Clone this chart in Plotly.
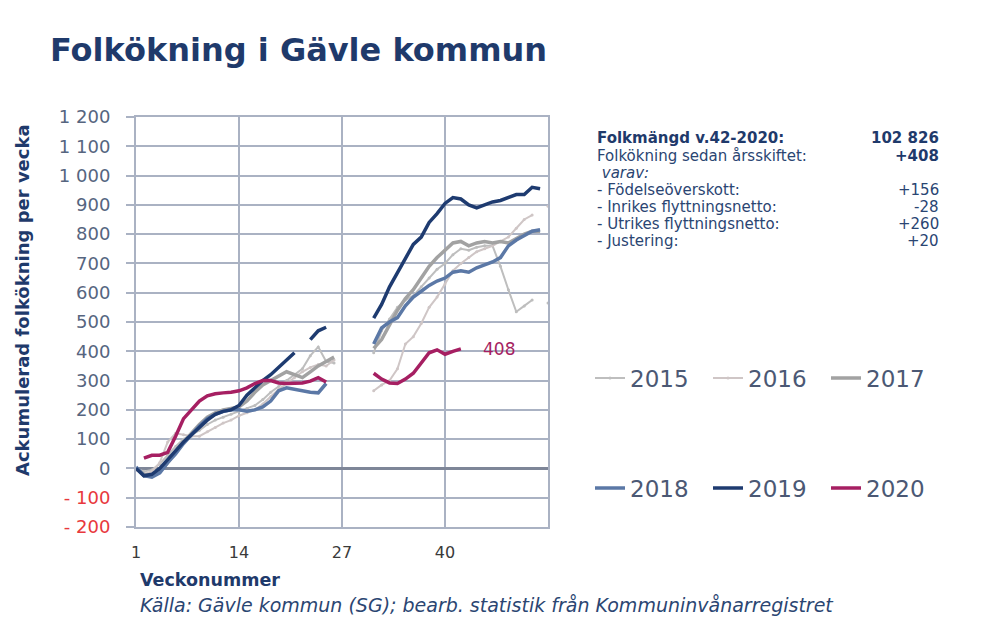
import plotly.graph_objects as go

weeks = list(range(1, 54))
N = None

# Accumulated population increase per week
y2015 = [0, -10, -5, 15, 45, 75, 100, 115, 130, 150, 165, 175, 185, 195, 205, 215, 235, 260, 280, 300,
         320, 340, 385, 415, 365, 360, N, N, N, N,
         395, 470, 510, 550, 575, 590, 620, 650, 680, 700, 730, 750, 745, 755, 760, 760, 690, 610, 535, 555,
         575, N, 565]
y2016 = [-5, -20, -10, 20, 90, 120, 115, 110, 110, 125, 140, 155, 165, 180, 190, 200, 220, 245, 270, 290,
         310, 330, 345, 355, 350, 370, N, N, N, N,
         265, 285, 300, 340, 425, 450, 495, 550, 585, 630, 675, 700, 720, 740, 750, 760, 775, 790, 820, 850,
         865, N, 895]
y2017 = [0, -20, -25, -10, 20, 55, 90, 120, 150, 175, 190, 200, 205, 210, 230, 260, 285, 300, 315, 330,
         320, 310, 330, 350, 365, 380, N, N, N, N,
         410, 440, 490, 540, 580, 610, 650, 690, 720, 745, 770, 775, 760, 770, 775, 770, 775, 770, 785, 800,
         810, 810, N]
y2018 = [5, -25, -30, -15, 20, 50, 85, 115, 145, 170, 185, 195, 200, 200, 195, 200, 210, 230, 265, 275,
         270, 265, 260, 258, 290, N, N, N, N, N,
         425, 480, 500, 515, 555, 585, 605, 625, 640, 650, 670, 675, 670, 685, 695, 705, 720, 760, 780, 795,
         810, 815, N]
y2019 = [0, -25, -20, 0, 30, 60, 90, 115, 140, 165, 185, 195, 200, 215, 250, 275, 300, 320, 345, 370,
         395, N, 440, 470, 482, N, N, N, N, N,
         513, 560, 620, 670, 720, 765, 790, 840, 870, 905, 925, 920, 900, 890, 900, 910, 915, 925, 935, 935,
         960, 955, N]
y2020 = [N, 35, 45, 45, 55, 110, 170, 200, 230, 248, 255, 258, 260, 265, 275, 290, 300, 300, 292, 290,
         292, 292, 298, 310, 295, N, N, N, N, N,
         325, 305, 292, 290, 305, 325, 360, 395, 405, 390, 400, 408, N, N, N, N, N, N, N, N,
         N, N, N]

x_tickvals = [1, 14, 27, 40, 53]
x_ticktext = ["1", "14", "27", "40", ""]
y_tickvals = list(range(-200, 1201, 100))
y_ticktext = ["<span style='color:#E8383D'>- 200</span>", "<span style='color:#E8383D'>- 100</span>",
              "0", "100", "200", "300", "400", "500", "600", "700", "800", "900",
              "1 000", "1 100", "1 200"]

info_labels = ["Folkmängd v.42-2020:", "Folkökning sedan årsskiftet:", " <i>varav:</i>",
               "- Födelseöverskott:", "- Inrikes flyttningsnetto:", "- Utrikes flyttningsnetto:", "- Justering:"]
info_values = ["102 826", "+408", "", "+156", "-28", "+260", "+20"]

FONT = "DejaVu Sans"
NAVY = "#1F3A6B"
GRID = "#AAB2C3"

series = [
    ("2015", y2015, "#BEBEBE", 2, True, "legend"),
    ("2016", y2016, "#CFC6C6", 2, True, "legend"),
    ("2017", y2017, "#A2A2A2", 3.5, False, "legend"),
    ("2018", y2018, "#5B78A6", 3.5, False, "legend2"),
    ("2019", y2019, "#1E3B70", 3.5, False, "legend2"),
    ("2020", y2020, "#A61F62", 3.5, False, "legend2"),
]

fig = go.Figure()
for name, vals, color, width, mk, lg in series:
    fig.add_trace(go.Scatter(
        x=weeks, y=vals, name=name, legend=lg,
        mode="lines+markers" if mk else "lines",
        line=dict(color=color, width=width),
        marker=dict(size=3, color=color) if mk else None,
        connectgaps=False,
    ))

# end label for 2020
last_idx = max(i for i, v in enumerate(y2020) if v is not None)
fig.add_annotation(x=weeks[last_idx], y=y2020[last_idx], xref="x", yref="y",
                   text=str(y2020[last_idx]), showarrow=False, xanchor="left", yanchor="middle",
                   xshift=20, font=dict(family=FONT, size=17, color="#A61F62"))

# page has an ~8px body margin: work in page coordinates, shifted by OFF
OFF = 8
W, H = 995, 632
pw, ph = 412, 410
L, T = 136 - OFF, 117 - OFF
R, B = W - L - pw, H - T - ph

def px(xp):
    return (xp - OFF - L) / pw

def py(yp):
    return (H - B - (yp - OFF)) / ph

# Title
fig.add_annotation(xref="paper", yref="paper", x=px(48), y=py(50), xanchor="left", yanchor="middle",
                   text="<b>Folkökning i Gävle kommun</b>", showarrow=False,
                   font=dict(family=FONT, size=32, color=NAVY))
# Y title
fig.add_annotation(xref="paper", yref="paper", x=px(22), y=py(300), xanchor="center", yanchor="middle",
                   text="<b>Ackumulerad folkökning per vecka</b>", textangle=-90, showarrow=False,
                   font=dict(family=FONT, size=18, color=NAVY))
# X title and source
fig.add_annotation(xref="paper", yref="paper", x=px(138), y=py(580), xanchor="left", yanchor="middle",
                   text="<b>Veckonummer</b>", showarrow=False,
                   font=dict(family=FONT, size=17.5, color=NAVY))
fig.add_annotation(xref="paper", yref="paper", x=px(138), y=py(605), xanchor="left", yanchor="middle",
                   text="<i>Källa: Gävle kommun (SG); bearb. statistik från Kommuninvånarregistret</i>",
                   showarrow=False, font=dict(family=FONT, size=19, color="#2B4672"))

# Info block
row_y = [138, 156, 173, 190, 207, 224, 241]
for i, (lab, val) in enumerate(zip(info_labels, info_values)):
    bold = i == 0
    fig.add_annotation(xref="paper", yref="paper", x=px(595), y=py(row_y[i]), xanchor="left",
                       yanchor="middle", showarrow=False,
                       text=f"<b>{lab}</b>" if bold else lab,
                       font=dict(family=FONT, size=15, color=NAVY if bold else "#2A4572"))
    if val:
        fig.add_annotation(xref="paper", yref="paper", x=px(941), y=py(row_y[i]), xanchor="right",
                           yanchor="middle", showarrow=False,
                           text=f"<b>{val}</b>" if i < 2 else val,
                           font=dict(family=FONT, size=15, color=NAVY if i < 2 else "#2A4572"))

legend_common = dict(orientation="h", xanchor="left", yanchor="middle",
                     font=dict(family=FONT, size=23, color="#4B5874"),
                     bgcolor="rgba(0,0,0,0)", borderwidth=0,
                     entrywidth=73, entrywidthmode="pixels", itemwidth=30)

fig.update_layout(
    width=W, height=H,
    margin=dict(l=L, r=R, t=T, b=B, autoexpand=False),
    paper_bgcolor="white", plot_bgcolor="white",
    showlegend=True,
    legend=dict(x=px(590), y=py(378), **legend_common),
    legend2=dict(x=px(590), y=py(488), **legend_common),
    xaxis=dict(range=[1, 53], tickmode="array", tickvals=x_tickvals, ticktext=x_ticktext,
               showgrid=True, gridcolor=GRID, gridwidth=2, zeroline=False,
               showline=True, linecolor=GRID, linewidth=2, mirror=True, ticks="",
               tickfont=dict(family=FONT, size=16, color="#3A3A3A"), ticklabelstandoff=10),
    yaxis=dict(range=[-200, 1200], tickmode="array", tickvals=y_tickvals, ticktext=y_ticktext,
               showgrid=True, gridcolor=GRID, gridwidth=2,
               zeroline=True, zerolinecolor="#7E8698", zerolinewidth=3,
               showline=True, linecolor=GRID, linewidth=2, mirror=True,
               ticks="outside", ticklen=8, tickwidth=2, tickcolor=GRID, ticklabelstandoff=12,
               tickfont=dict(family=FONT, size=18, color="#56657F")),
)

fig.write_html("out.html")
